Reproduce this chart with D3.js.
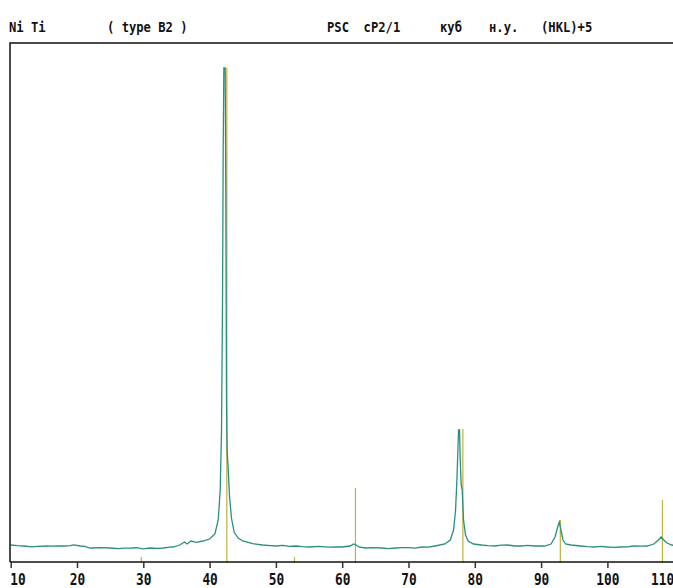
<!DOCTYPE html>
<html>
<head>
<meta charset="utf-8">
<script src="https://cdn.jsdelivr.net/npm/d3@7"></script>
<style>
  body { margin: 0; background: #fff; }
  svg { display: block; }
  text { font-family: "DejaVu Sans Mono", monospace; font-weight: bold; fill: #111; }
</style>
</head>
<body>
<div id="chart"></div>
<script>
// header labels of the phase card
const headerItems = ['Ni Ti', '( type B2 )', 'PSC  cP2/1', 'куб', 'н.у.', '(HKL)+5']
const headerX = [9, 107, 327, 440, 489, 541]

// x axis ticks (2 theta, degrees)
const tickValues = [10, 20, 30, 40, 50, 60, 70, 80, 90, 100, 110]

// measured pattern: 2 theta (deg) and intensity (counts)
const twoTheta = [
  10.0, 11.0, 12.0, 13.2, 14.0, 15.5, 16.0, 17.3, 18.0, 19.0, 19.5, 20.5, 21.2, 22.0,
  23.5, 25.0, 26.2, 27.0, 28.3, 29.0, 30.0, 31.0, 32.2, 33.0, 34.0, 34.5, 35.5, 36.2,
  36.6, 37.2, 38.0, 39.0, 40.0, 40.8, 41.3, 41.6, 41.8, 41.95, 42.05, 42.15, 42.35, 42.45,
  42.55, 42.65, 42.8, 43.0, 43.3, 43.7, 44.3, 45.0, 46.5, 48.0, 49.2, 50.0, 51.0, 52.0,
  53.0, 54.0, 55.0, 56.5, 58.0, 59.0, 60.0, 61.2, 61.7, 62.1, 62.5, 63.5, 64.5, 66.0,
  67.0, 68.0, 69.0, 70.0, 71.0, 72.0, 73.0, 74.0, 75.5, 76.3, 76.8, 77.1, 77.3, 77.45,
  77.55, 77.7, 77.8, 77.95, 78.1, 78.3, 78.6, 79.0, 79.8, 81.0, 82.0, 83.0, 84.0, 85.0,
  86.0, 87.0, 88.0, 89.0, 90.5, 91.5, 92.1, 92.5, 92.75, 93.0, 93.3, 93.7, 94.5, 96.0,
  97.0, 98.0, 99.0, 100.0, 101.0, 102.0, 103.0, 104.0, 105.0, 106.0, 107.0, 107.7, 108.1, 108.5,
  109.0, 109.7, 110.5
]
const intensity = [
  85, 82, 80, 76, 78, 80, 79, 81, 80, 82, 86, 80, 78, 70,
  72, 70, 67, 69, 70, 72, 66, 70, 68, 70, 74, 75, 85, 100,
  90, 105, 98, 105, 115, 140, 210, 360, 660, 1310, 2060, 2470, 2470, 1810,
  810, 550, 470, 330, 220, 150, 120, 105, 92, 85, 82, 80, 83, 78,
  80, 77, 75, 78, 74, 76, 75, 80, 90, 85, 75, 70, 72, 70,
  67, 70, 72, 72, 69, 75, 74, 80, 90, 110, 160, 260, 410, 560,
  660, 660, 510, 385, 360, 210, 135, 105, 90, 85, 82, 80, 84, 85,
  80, 80, 83, 80, 80, 90, 125, 175, 200, 160, 110, 90, 85, 80,
  77, 75, 78, 75, 73, 75, 76, 80, 79, 80, 90, 110, 125, 110,
  95, 85, 80
]

// reference reflections (HKL) of the card: position and relative height
const hklPos = [29.7, 42.6, 52.8, 62.0, 78.2, 92.9, 108.3]
const hklInt = [25, 2470, 25, 370, 665, 210, 310]

const width = 673
const height = 588
const frame = { left: 10, right: 673, top: 43, bottom: 562 }

const svg = d3.select('#chart')
  .append('svg')
  .attr('width', width)
  .attr('height', height)

const x = d3.scaleLinear()
  .domain([10, 110])
  .range([10.7, 673.7])

const y = d3.scaleLinear()
  .domain([0, 2470])
  .range([frame.bottom, 68])

// header line (narrow, tall letters like the original bitmap font)
svg.append('g')
  .selectAll('text')
  .data(headerItems)
  .join('text')
  .attr('transform', (d, i) => `translate(${headerX[i]},32) scale(0.84,1)`)
  .attr('font-size', 14.5)
  .attr('xml:space', 'preserve')
  .style('white-space', 'pre')
  .text(d => d)

// HKL reference lines
svg.append('g')
  .selectAll('line')
  .data(hklPos)
  .join('line')
  .attr('x1', d => x(d))
  .attr('x2', d => x(d))
  .attr('y1', frame.bottom + 1)
  .attr('y2', (d, i) => y(hklInt[i]))
  .attr('stroke', '#c2b040')
  .attr('stroke-width', 1.2)

// measured pattern
const points = twoTheta.map((t, i) => [t, intensity[i]])
const line = d3.line()
  .x(d => x(d[0]))
  .y(d => y(d[1]))

svg.append('path')
  .datum(points)
  .attr('d', line)
  .attr('fill', 'none')
  .attr('stroke', '#2a8f7c')
  .attr('stroke-width', 1.3)

// frame: left and top
svg.append('path')
  .attr('d', `M${frame.left},${frame.bottom}V${frame.top}H${frame.right}`)
  .attr('fill', 'none')
  .attr('stroke', '#111')
  .attr('stroke-width', 1.5)

// x axis
const xAxis = svg.append('g')
  .attr('transform', `translate(0,${frame.bottom})`)
  .call(d3.axisBottom(x).tickValues(tickValues).tickSize(6).tickSizeOuter(0))

xAxis.select('.domain')
  .attr('d', `M${frame.left},0H${frame.right}`)
  .attr('stroke', '#111')
  .attr('stroke-width', 1.5)
xAxis.selectAll('.tick line').attr('stroke', '#333').attr('stroke-width', 1.5)
xAxis.selectAll('.tick text')
  .attr('font-family', '"DejaVu Sans Mono", monospace')
  .attr('font-weight', 'bold')
  .attr('font-size', 16)
  .attr('fill', '#111')
  .attr('dy', 0)
  .attr('y', null)
  .attr('text-anchor', d => (d === 10 ? 'start' : d === 110 ? 'end' : 'middle'))
  .attr('transform', d => `translate(${d === 10 ? -1 : d === 110 ? 0 : 0},23) scale(0.8,1)`)
</script>
</body>
</html>
